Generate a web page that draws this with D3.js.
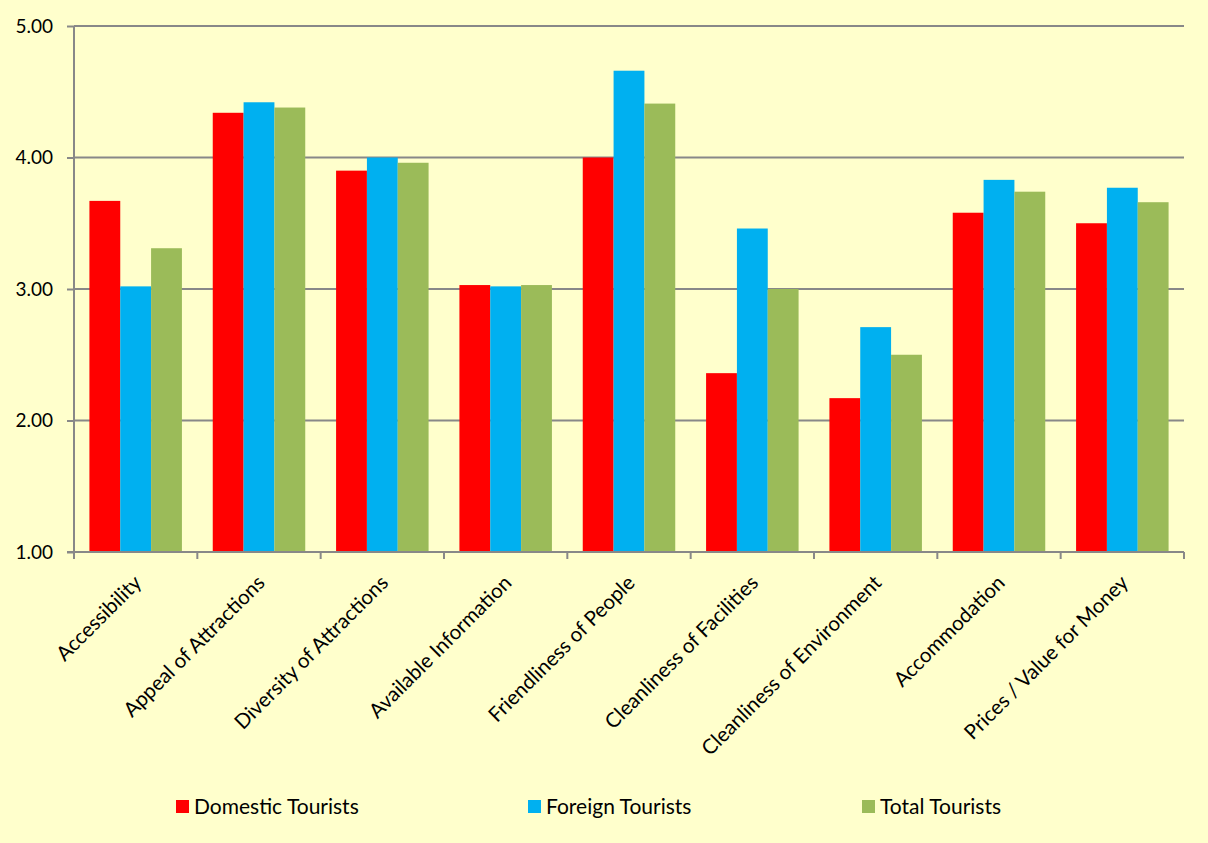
<!DOCTYPE html>
<html><head><meta charset="utf-8">
<script src="https://cdn.jsdelivr.net/npm/d3@7"></script>
<style>html,body{margin:0;padding:0;background:#FFFFCC;}svg{display:block;}</style>
</head><body>
<script>
const categories = ["Accessibility","Appeal of Attractions","Diversity of Attractions","Available Information","Friendliness of People","Cleanliness of Facilities","Cleanliness of Environment","Accommodation","Prices / Value for Money"];
const seriesNames = ["Domestic Tourists","Foreign Tourists","Total Tourists"];
const domestic = [3.67,4.34,3.90,3.03,4.00,2.36,2.17,3.58,3.50];
const foreign  = [3.02,4.42,4.00,3.02,4.66,3.46,2.71,3.83,3.77];
const total    = [3.31,4.38,3.96,3.03,4.41,3.00,2.50,3.74,3.66];
const yTicks = [1,2,3,4,5];
const colors = ["#FF0000","#00B0F0","#9BBB59"];
const seriesValues = [domestic, foreign, total];

const W=1208,H=843;
const m={left:74,right:1184,top:26,bottom:552};
const font="Lato, 'Open Sans', sans-serif";
const svg=d3.select("body").append("svg").attr("width",W).attr("height",H);
svg.append("rect").attr("width",W).attr("height",H).attr("fill","#FFFFCC");

const x=d3.scaleBand().domain(categories).range([m.left,m.right]).paddingInner(0.25).paddingOuter(0.125);
const xs=d3.scaleBand().domain(seriesNames).range([0,x.bandwidth()]);
const y=d3.scaleLinear().domain([1,5]).range([m.bottom,m.top]);

// gridlines
svg.append("g").selectAll("line").data(yTicks.filter(d=>d>1)).join("line")
 .attr("x1",m.left).attr("x2",m.right).attr("y1",d=>y(d)).attr("y2",d=>y(d))
 .attr("stroke","#888").attr("stroke-width",2);

// bars
const g=svg.append("g");
categories.forEach((c,i)=>{
  seriesNames.forEach((s,j)=>{
    g.append("rect").attr("x",x(c)+xs(s)).attr("width",xs.bandwidth())
     .attr("y",y(seriesValues[j][i])).attr("height",y(1)-y(seriesValues[j][i]))
     .attr("fill",colors[j]);
  });
});

// y axis
const ya=svg.append("g").attr("transform",`translate(${m.left},0)`)
 .call(d3.axisLeft(y).tickValues(yTicks).tickFormat(d3.format(".2f")).tickSize(7).tickPadding(14));
ya.select(".domain").attr("stroke","#888").attr("stroke-width",2).attr("d",`M0,${m.top}V${m.bottom}`);
ya.selectAll(".tick line").attr("stroke","#888").attr("stroke-width",2);
ya.selectAll(".tick text").attr("font-family",font).attr("font-size",19).attr("fill","#000");

// x axis
const step=x.step();
const xa=svg.append("g").attr("transform",`translate(0,${m.bottom})`);
xa.append("line").attr("x1",m.left-7).attr("x2",m.right).attr("stroke","#888").attr("stroke-width",2);
const bounds=d3.range(categories.length+1).map(i=>m.left+i*step);
xa.selectAll("line.tk").data(bounds).join("line").attr("class","tk")
 .attr("x1",d=>d).attr("x2",d=>d).attr("y1",0).attr("y2",7).attr("stroke","#888").attr("stroke-width",2);
xa.selectAll("text").data(categories).join("text")
 .attr("transform",d=>`translate(${x(d)+x.bandwidth()/2+2},${27}) rotate(-45)`)
 .attr("text-anchor","end").attr("dy","0.35em")
 .attr("font-family",font).attr("font-size",20.5).attr("fill","#000").text(d=>d);

// legend
const legX=[176,528,862];
const lg=svg.append("g");
seriesNames.forEach((s,j)=>{
  lg.append("rect").attr("x",legX[j]).attr("y",800).attr("width",13).attr("height",13).attr("fill",colors[j]);
  lg.append("text").attr("x",legX[j]+18).attr("y",814).attr("font-family",font).attr("font-size",21).attr("fill","#000").text(s);
});
</script>
</body></html>
